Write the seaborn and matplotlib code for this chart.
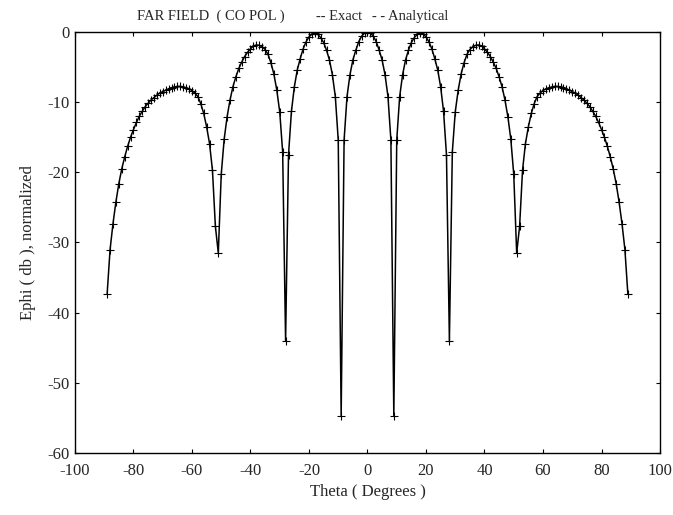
import matplotlib
matplotlib.use("Agg")
import matplotlib.pyplot as plt
import seaborn as sns
import pandas as pd

# Sample grid (degrees)
theta = list(range(-89, 90))

# Normalized far-field Ephi (dB)
ephi_db = [
    -37.3, -31.0, -27.3, -24.2, -21.6, -19.5, -17.8, -16.3, -15.0, -13.9,
    -12.9, -12.0, -11.3, -10.65, -10.15, -9.7, -9.35, -9.0, -8.7, -8.5,
    -8.3, -8.1, -7.95, -7.85, -7.75, -7.75, -7.85, -7.95, -8.1, -8.35,
    -8.7, -9.2, -10.2, -11.6, -13.5, -15.9, -19.7, -27.7, -31.5, -20.3,
    -15.3, -12.1, -9.7, -7.8, -6.4, -5.2, -4.3, -3.5, -2.9, -2.4,
    -2.0, -1.85, -1.9, -2.1, -2.5, -3.2, -4.4, -6.0, -8.3, -11.4,
    -17.1, -44.0, -17.5, -11.3, -7.8, -5.4, -3.8, -2.4, -1.4, -0.7,
    -0.3, -0.2, -0.35, -0.8, -1.5, -2.6, -4.0, -6.1, -9.2, -15.4,
    -54.7, -15.4, -9.2, -6.1, -4.0, -2.6, -1.4, -0.6, -0.15,
    0.0,
    -0.15, -0.6, -1.4, -2.6, -4.0, -6.1, -9.2, -15.4, -54.7,
    -15.4, -9.2, -6.1, -4.0, -2.6, -1.5, -0.8, -0.35, -0.2, -0.3,
    -0.7, -1.4, -2.4, -3.8, -5.4, -7.8, -11.3, -17.5, -44.0, -17.1,
    -11.4, -8.3, -6.0, -4.4, -3.2, -2.5, -2.1, -1.9, -1.85, -2.0,
    -2.4, -2.9, -3.5, -4.3, -5.2, -6.4, -7.8, -9.7, -12.1, -15.3,
    -20.3, -31.5, -27.7, -19.7, -15.9, -13.5, -11.6, -10.2, -9.2, -8.7,
    -8.35, -8.1, -7.95, -7.85, -7.75, -7.75, -7.85, -7.95, -8.1, -8.3,
    -8.5, -8.7, -9.0, -9.35, -9.7, -10.15, -10.65, -11.3, -12.0, -12.9,
    -13.9, -15.0, -16.3, -17.8, -19.5, -21.6, -24.2, -27.3, -31.0, -37.3,
]

x_ticks = [-100, -80, -60, -40, -20, 0, 20, 40, 60, 80, 100]
y_ticks = [-60, -50, -40, -30, -20, -10, 0]

df = pd.DataFrame({"theta": theta, "ephi": ephi_db})

sns.set_style("ticks")
plt.rcParams["font.family"] = ["Liberation Serif", "DejaVu Serif"]
plt.rcParams["xtick.direction"] = "in"
plt.rcParams["ytick.direction"] = "in"

fig = plt.figure(figsize=(6.73, 5.15), dpi=100)
ax = fig.add_axes([0.1114, 0.1204, 0.8693, 0.8175])

# Exact (solid line)
sns.lineplot(data=df, x="theta", y="ephi", ax=ax, color="black",
             linewidth=1.1, sort=False, estimator=None)
# Analytical (plus markers)
sns.scatterplot(data=df, x="theta", y="ephi", ax=ax, color="black",
                marker="+", s=36, linewidth=0.8)

ax.set_xlim(-100, 100)
ax.set_ylim(-60, 0)
ax.set_xticks(x_ticks)
ax.set_yticks(y_ticks)
ax.set_xticklabels([str(v) for v in x_ticks])
ax.set_yticklabels([str(v) for v in y_ticks])
ax.tick_params(axis="both", which="both", direction="in", length=3,
               width=0.8, labelsize=12, top=True, right=True, color="black")
ax.tick_params(axis="x", pad=7)
ax.tick_params(axis="y", pad=4)
for s in ax.spines.values():
    s.set_linewidth(1.0)
    s.set_color("black")
    s.set_visible(True)

ax.set_xlabel("Theta ( Degrees )", fontsize=12)
ax.set_ylabel("Ephi ( db ), normalized", fontsize=12)
ax.xaxis.set_label_coords(0.5, -0.074)
ax.yaxis.set_label_coords(-0.066, 0.5)

ty = 1 - 20 / 515
fig.text(137 / 673, ty, "FAR FIELD  ( CO POL )", fontsize=10.5,
         ha="left", va="baseline")
fig.text(316 / 673, ty, "-- Exact", fontsize=10.5,
         ha="left", va="baseline")
fig.text(372 / 673, ty, "- - Analytical", fontsize=10.5,
         ha="left", va="baseline")

fig.savefig("out.png", dpi=100)
